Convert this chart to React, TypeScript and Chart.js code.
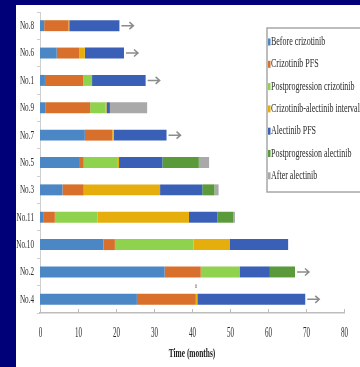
import React, { useEffect, useRef } from "react";
import { Chart, registerables } from "chart.js";

Chart.register(...registerables);

const patients = ["No.8", "No.6", "No.1", "No.9", "No.7", "No.5", "No.3", "No.11", "No.10", "No.2", "No.4"];
const beforeCrizotinib = [1.1, 4.4, 1.3, 1.5, 11.8, 10.5, 5.9, 1.0, 16.7, 32.8, 25.5];
const crizotinibPFS = [6.4, 5.9, 10.1, 11.7, 7.2, 1.0, 5.6, 2.9, 3.0, 9.5, 15.5];
const postprogressionCrizotinib = [0, 0, 2.3, 4.1, 0, 8.8, 0, 11.2, 20.7, 10.2, 0];
const crizotinibAlectinibInterval = [0.2, 1.5, 0, 0.2, 0.4, 0.5, 20.1, 24.1, 9.6, 0, 0.4];
const alectinibPFS = [13.2, 10.3, 14.1, 0.9, 13.9, 11.4, 11.1, 7.5, 15.3, 8.0, 28.4];
const postprogressionAlectinib = [0, 0, 0, 0, 0, 9.6, 3.2, 4.2, 0, 6.6, 0];
const afterAlectinib = [0, 0, 0, 9.8, 0, 2.7, 1.1, 0.4, 0, 0, 0];
const ongoing = [true, true, true, false, true, false, false, false, false, true, true];
const xTicks = [0, 10, 20, 30, 40, 50, 60, 70, 80];
const seriesNames = [
  "Before crizotinib",
  "Crizotinib PFS",
  "Postprogression crizotinib",
  "Crizotinib-alectinib interval",
  "Alectinib PFS",
  "Postprogression alectinib",
  "After alectinib",
];
const seriesColors = ["#4b87c5", "#d8702b", "#8fd24e", "#e6ae0c", "#3a5fb6", "#5b9a3a", "#a9a9a9"];
const xTitle = "Time (months)";
const noteLabel = "a";
const noteRow = 10;

function drawText(ctx: CanvasRenderingContext2D, text: string, x: number, y: number, align: CanvasTextAlign, font: string, sx: number, color: string) {
  ctx.save();
  ctx.translate(x, y);
  ctx.scale(sx, 1);
  ctx.font = font;
  ctx.fillStyle = color;
  ctx.textAlign = align;
  ctx.textBaseline = "middle";
  ctx.fillText(text, 0, 0);
  ctx.restore();
}

export default function App() {
  const ref = useRef<HTMLCanvasElement | null>(null);

  useEffect(() => {
    if (!ref.current) return;
    const series = [
      beforeCrizotinib,
      crizotinibPFS,
      postprogressionCrizotinib,
      crizotinibAlectinibInterval,
      alectinibPFS,
      postprogressionAlectinib,
      afterAlectinib,
    ];
    const overlay = {
      id: "overlay",
      afterDraw(chart: any) {
        const ctx: CanvasRenderingContext2D = chart.ctx;
        const xs = chart.scales.x;
        const ys = chart.scales.y;
        const area = chart.chartArea;
        const textColor = "#2a2a2a";
        ctx.save();
        ctx.strokeStyle = "#bdbdbd";
        ctx.lineWidth = 1;
        xTicks.forEach((t) => {
          const px = Math.round(xs.getPixelForValue(t)) + 0.5;
          ctx.beginPath();
          ctx.moveTo(px, area.bottom);
          ctx.lineTo(px, area.bottom - 4);
          ctx.stroke();
          drawText(ctx, String(t), px, area.bottom + 20, "center", "14px 'Liberation Serif'", 0.5, textColor);
        });
        ctx.restore();
        drawText(ctx, xTitle, (area.left + area.right) / 2, area.bottom + 41, "center", "bold 13px 'Liberation Serif'", 0.57, "#1a1a1a");
        patients.forEach((p, i) => {
          const py = ys.getPixelForValue(i);
          drawText(ctx, p, area.left - 6, py, "right", "13px 'Liberation Serif'", 0.55, textColor);
        });
        ctx.save();
        ctx.strokeStyle = "#8c8c8c";
        ctx.lineWidth = 1.5;
        patients.forEach((_, i) => {
          if (!ongoing[i]) return;
          let total = 0;
          series.forEach((s) => (total += s[i]));
          const x0 = xs.getPixelForValue(total) + 2;
          const tip = x0 + 12;
          const py = ys.getPixelForValue(i);
          ctx.beginPath();
          ctx.moveTo(x0, py);
          ctx.lineTo(tip, py);
          ctx.moveTo(tip - 4, py - 3.5);
          ctx.lineTo(tip, py);
          ctx.lineTo(tip - 4, py + 3.5);
          ctx.stroke();
        });
        ctx.restore();
        {
          let v = 0;
          for (let k = 0; k < 2; k++) v += series[k][noteRow];
          const px = xs.getPixelForValue(v);
          const py = ys.getPixelForValue(noteRow) - 13;
          drawText(ctx, noteLabel, px, py, "center", "8px 'Liberation Serif'", 0.6, "#666666");
        }
        ctx.save();
        const lx = 251;
        const ly = 23;
        ctx.fillStyle = "#ffffff";
        ctx.fillRect(lx, ly, 120, 164);
        ctx.strokeStyle = "#a8a8a8";
        ctx.lineWidth = 1.5;
        ctx.strokeRect(lx, ly, 120, 164);
        seriesNames.forEach((name, i) => {
          const cy = ly + 14 + i * 22.3;
          ctx.fillStyle = seriesColors[i];
          ctx.fillRect(lx + 1, cy - 3.5, 2.5, 7);
          drawText(ctx, name, lx + 4, cy, "left", "12px 'Liberation Serif'", 0.665, textColor);
        });
        ctx.restore();
      },
    };

    const chart = new Chart(ref.current, {
      type: "bar",
      data: {
        labels: patients,
        datasets: series.map((s, i) => ({
          label: seriesNames[i],
          data: s,
          backgroundColor: seriesColors[i],
          borderWidth: 0,
          categoryPercentage: 1,
          barPercentage: 0.4,
        })),
      },
      options: {
        indexAxis: "y",
        animation: false,
        responsive: false,
        layout: { padding: { top: 7, right: 16, left: 0, bottom: 0 } },
        plugins: { legend: { display: false }, tooltip: { enabled: false } },
        scales: {
          x: {
            stacked: true,
            min: 0,
            max: 80,
            ticks: { display: false, stepSize: 10 },
            grid: { display: false },
            border: { display: true, color: "#bdbdbd", width: 1.5 },
            afterFit: (scale: any) => {
              scale.height = 54;
            },
          },
          y: {
            stacked: true,
            ticks: { display: false },
            grid: { display: true, drawOnChartArea: false, offset: true, tickLength: 3, color: "#cfcfcf" },
            border: { display: true, color: "#d0d0d0", width: 1 },
            afterFit: (scale: any) => {
              scale.width = 24;
            },
          },
        },
      },
      plugins: [overlay],
    } as any);
    return () => chart.destroy();
  }, []);

  return (
    <div style={{ position: "fixed", left: 0, top: 0, width: 360, height: 367, background: "#000078", overflow: "hidden" }}>
      <div style={{ position: "absolute", left: 16, top: 5, width: 344, height: 362, background: "#ffffff" }}>
        <canvas ref={ref} width={344} height={362} style={{ display: "block", width: 344, height: 362 }} />
      </div>
    </div>
  );
}
